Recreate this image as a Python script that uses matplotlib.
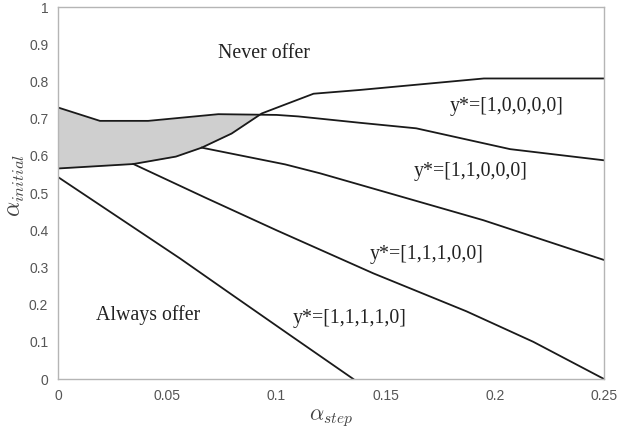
import matplotlib
matplotlib.use("Agg")
import matplotlib.pyplot as plt
import numpy as np

plt.rcParams["mathtext.fontset"] = "cm"

# boundary curves of the offer-policy regions (alpha_step, alpha_initial)
upper_x = [0.0, 0.0192, 0.0413, 0.0734, 0.1001, 0.110, 0.138, 0.164, 0.207, 0.25]
upper_y = [0.730, 0.694, 0.694, 0.712, 0.710, 0.706, 0.689, 0.674, 0.618, 0.588]

lower_x = [0.0, 0.0345, 0.0540, 0.0658, 0.0795, 0.0933, 0.104, 0.117, 0.138, 0.195, 0.25]
lower_y = [0.566, 0.578, 0.598, 0.622, 0.660, 0.714, 0.738, 0.767, 0.777, 0.808, 0.808]

y11000_x = [0.0658, 0.104, 0.120, 0.1627, 0.1947, 0.25]
y11000_y = [0.622, 0.577, 0.553, 0.481, 0.427, 0.320]

y11100_x = [0.0345, 0.0673, 0.100, 0.1444, 0.187, 0.2176, 0.25]
y11100_y = [0.578, 0.488, 0.400, 0.284, 0.182, 0.100, 0.0]

always_x = [0.0, 0.0559, 0.0788, 0.1062, 0.1352]
always_y = [0.543, 0.324, 0.230, 0.118, 0.0]

region_labels = ["Never offer", "y*=[1,0,0,0,0]", "y*=[1,1,0,0,0]",
                 "y*=[1,1,1,0,0]", "y*=[1,1,1,1,0]", "Always offer"]
label_x = [0.0943, 0.2053, 0.189, 0.169, 0.1335, 0.0413]
label_y = [0.874, 0.732, 0.557, 0.336, 0.163, 0.172]

fig = plt.figure(figsize=(6.17, 4.33), dpi=100)
ax = fig.add_axes([0.094, 0.1247, 0.885, 0.859])

# shaded zone where the upper boundary lies above the lower one
grid = np.linspace(0, 0.25, 2000)
top = np.interp(grid, upper_x, upper_y)
bot = np.interp(grid, lower_x, lower_y)
ax.fill_between(grid, bot, top, where=top > bot, color="#cfcfcf", linewidth=0, zorder=1)

line_kw = dict(color="#1a1a1a", linewidth=1.3, zorder=2)
ax.plot(upper_x, upper_y, **line_kw)
ax.plot(lower_x, lower_y, **line_kw)
ax.plot(y11000_x, y11000_y, **line_kw)
ax.plot(y11100_x, y11100_y, **line_kw)
ax.plot(always_x, always_y, **line_kw)

for txt, lx, ly in zip(region_labels, label_x, label_y):
    ax.text(lx, ly, txt, ha="center", va="center", fontsize=14.3,
            family="Liberation Serif", color="#222222")

ax.set_xlim(0, 0.25)
ax.set_ylim(0, 1)
ax.set_xticks([0, 0.05, 0.1, 0.15, 0.2, 0.25])
ax.set_xticklabels(["0", "0.05", "0.1", "0.15", "0.2", "0.25"])
ax.set_yticks(np.arange(0, 1.01, 0.1))
ax.set_yticklabels(["0", "0.1", "0.2", "0.3", "0.4", "0.5", "0.6", "0.7", "0.8", "0.9", "1"])
ax.tick_params(length=0, labelsize=10, labelcolor="#555555", pad=7)
for lab in ax.get_xticklabels() + ax.get_yticklabels():
    lab.set_family("Liberation Sans")
for spine in ax.spines.values():
    spine.set_color("#b5b5b5")
    spine.set_linewidth(1.0)

ax.set_xlabel(r"$\alpha_{step}$", fontsize=16, color="#444444", labelpad=3)
ax.set_ylabel(r"$\alpha_{initial}$", fontsize=17, color="#444444")
ax.yaxis.set_label_coords(-0.056, 0.52)

fig.savefig("out.png", dpi=100)
